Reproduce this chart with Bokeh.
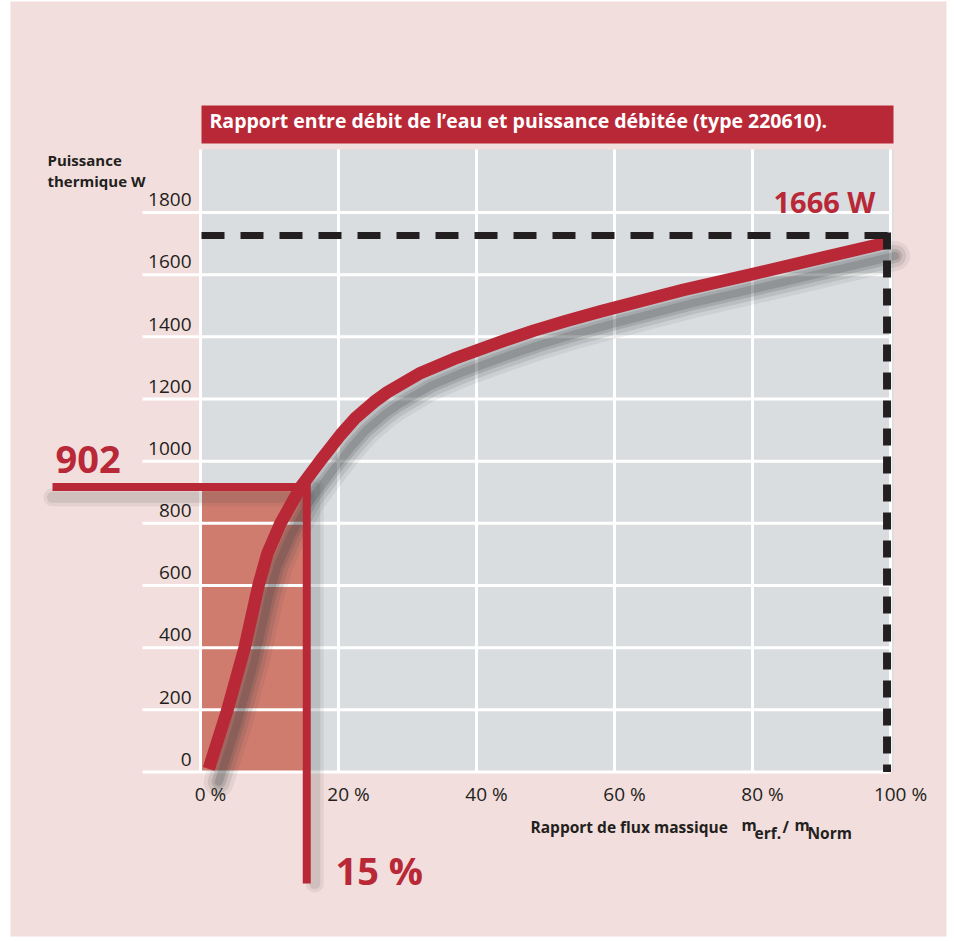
from bokeh.plotting import figure
from bokeh.models import Range1d
from bokeh.embed import file_html
from bokeh.resources import INLINE
from bokeh.core.properties import value

# ---------------- data ----------------
flow_ratio = [1.2, 3.9, 6.4, 8.4, 9.7, 11.6, 14.5, 17.5, 20.3, 22.5, 25.4, 27.1,
              31.9, 36.7, 40.0, 43.5, 48.3, 53.1, 58.0, 70.0, 80.0, 90.0, 99.2]
power_w = [10, 200, 400, 600, 703, 800, 916, 1005, 1085, 1140, 1195, 1222,
           1284, 1329, 1356, 1384, 1420, 1452, 1482, 1551, 1602, 1654, 1702]

x_ticks = [0, 20, 40, 60, 80, 100]
x_tick_labels = ["0 %", "20 %", "40 %", "60 %", "80 %", "100 %"]
y_ticks = [0, 200, 400, 600, 800, 1000, 1200, 1400, 1600, 1800]
y_tick_labels = ["0", "200", "400", "600", "800", "1000", "1200", "1400", "1600", "1800"]

mark_ratio = [15.4]
mark_power = [917]
max_ratio = [99.5]
max_power = [1726]
mark_power_label = ["902"]
mark_ratio_label = ["15 %"]
max_power_label = ["1666 W"]

title_text = ["Rapport entre débit de l’eau et puissance débitée (type 220610)."]
y_title = ["Puissance", "thermique W"]
x_title = ["Rapport de flux massique"]

# ---------------- layout helpers (screen px -> data) ----------------
X_ORIGIN_PX, PX_PER_PCT = 200.0, 6.9
Y_ORIGIN_PX, PX_PER_W = 771.5, 0.31083


def sx(px):
    return (px - X_ORIGIN_PX) / PX_PER_PCT


def sy(py):
    return (Y_ORIGIN_PX - py) / PX_PER_W


def lift(size):
    # baseline correction for the svg text renderer
    return -(0.3 * size + 3)


PINK = "#f2dedc"
GREY = "#dadde0"
RED = "#b82837"
FILL = "#cf7b6e"
DARK = "#231f20"
SHADOW = "#3a3f44"
FONT = value("Open Sans")

W, H = 950, 938
p = figure(width=W, height=H,
           x_range=Range1d(sx(0), sx(W)), y_range=Range1d(sy(H), sy(0)),
           output_backend="svg", toolbar_location=None,
           x_axis_location=None, y_axis_location=None,
           min_border=0, background_fill_color="white", border_fill_color="white",
           outline_line_color=None)
p.grid.visible = False

# pink page panel
p.quad(left=[sx(10)], right=[sx(946)], top=[sy(1)], bottom=[sy(936)],
       fill_color=PINK, line_color=None)

# title bar
p.quad(left=[sx(201)], right=[sx(893)], top=[sy(105)], bottom=[sy(143)],
       fill_color=RED, line_color=None)
p.text(x=[sx(209)], y=[sy(129)], text=title_text, text_font=FONT,
       text_font_style="bold", text_font_size="19.5px", text_color="white",
       text_baseline="alphabetic", y_offset=lift(19.5))

# grey plotting area
p.quad(left=[sx(200)], right=[sx(893)], top=[sy(149)], bottom=[0],
       fill_color=GREY, line_color=None)

# shaded area up to the operating point
p.quad(left=[0], right=mark_ratio, bottom=[0], top=mark_power,
       fill_color=FILL, line_color=None)

# grid lines
p.segment(x0=[sx(142)] * len(y_ticks), y0=y_ticks, x1=[100] * len(y_ticks), y1=y_ticks,
          line_color="white", line_width=3)
p.segment(x0=x_ticks, y0=[0] * len(x_ticks), x1=x_ticks, y1=[sy(149)] * len(x_ticks),
          line_color="white", line_width=3)

# tick labels
p.text(x=[sx(191)] * len(y_ticks), y=y_ticks, text=y_tick_labels, text_font=FONT,
       text_font_size="19px", text_color=DARK, text_align="right",
       text_baseline="alphabetic", y_offset=-4 + lift(19))
p.text(x=x_ticks, y=[sy(802)] * len(x_ticks), text=x_tick_labels, text_font=FONT,
       text_font_size="19px", text_color=DARK, text_align="center",
       text_baseline="alphabetic", x_offset=10, y_offset=lift(19))

# axis titles
p.text(x=[sx(47), sx(47)], y=[sy(167), sy(188)], text=y_title, text_font=FONT,
       text_font_style="bold", text_font_size="15px", text_color=DARK,
       text_baseline="alphabetic", y_offset=lift(15))
p.text(x=[sx(530)], y=[sy(834)], text=x_title, text_font=FONT,
       text_font_style="bold", text_font_size="15.5px", text_color=DARK,
       text_baseline="alphabetic", y_offset=lift(15.5))
p.text(x=[sx(741), sx(782), sx(794)], y=[sy(832), sy(834), sy(832)],
       text=["m", "/", "m"], text_font=FONT, text_font_style="bold",
       text_font_size="15.5px", text_color=DARK, text_baseline="alphabetic",
       y_offset=lift(15.5))
p.text(x=[sx(754), sx(807)], y=[sy(840), sy(840)], text=["erf.", "Norm"],
       text_font=FONT, text_font_style="bold", text_font_size="15.5px",
       text_color=DARK, text_baseline="alphabetic", y_offset=lift(15.5))

# soft shadows
dxs = 10 / PX_PER_PCT
dys = 13 / PX_PER_W
for w, a in [(30, 0.08), (22, 0.12), (14, 0.17), (8, 0.2)]:
    p.line([x + dxs for x in flow_ratio], [y - dys for y in power_w],
           line_color=SHADOW, line_width=w, line_alpha=a, line_cap="round",
           line_join="round")
for w, a in [(18, 0.08), (11, 0.12)]:
    p.line([sx(52), mark_ratio[0]], [mark_power[0] - dys * 0.8] * 2,
           line_color=SHADOW, line_width=w, line_alpha=a, line_cap="round")
    p.line([mark_ratio[0] + dxs * 0.8] * 2, [mark_power[0], sy(883)],
           line_color=SHADOW, line_width=w, line_alpha=a, line_cap="round")

# operating point guide lines
p.line([sx(52), mark_ratio[0]], [mark_power[0]] * 2, line_color=RED, line_width=8)
p.line([mark_ratio[0]] * 2, [mark_power[0] + 12, sy(883)], line_color=RED, line_width=8)

# characteristic curve
p.line(flow_ratio, power_w, line_color=RED, line_width=12.5, line_join="round")

# maximum power dashed guide
p.line([sx(201), max_ratio[0] + 0.5], max_power * 2, line_color=DARK, line_width=7,
       line_dash="23 16")
p.line(max_ratio * 2, [max_power[0] + 10, 0], line_color=DARK, line_width=8,
       line_dash="17 11")

# annotations
p.text(x=[sx(55)], y=[sy(473)], text=mark_power_label, text_font=FONT,
       text_font_style="bold", text_font_size="38px", text_color=RED,
       text_baseline="alphabetic", y_offset=lift(38))
p.text(x=[sx(335)], y=[sy(884)], text=mark_ratio_label, text_font=FONT,
       text_font_style="bold", text_font_size="38px", text_color=RED,
       text_baseline="alphabetic", y_offset=lift(38))
p.text(x=[sx(773)], y=[sy(213)], text=max_power_label, text_font=FONT,
       text_font_style="bold", text_font_size="29px", text_color=RED,
       text_baseline="alphabetic", y_offset=lift(29))

open("out.html", "w").write(file_html(p, INLINE))
